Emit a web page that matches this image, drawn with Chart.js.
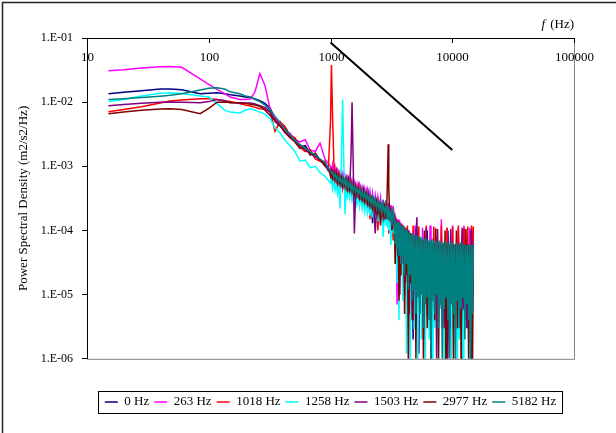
<!DOCTYPE html>
<html>
<head>
<meta charset="utf-8">
<script src="https://cdn.jsdelivr.net/npm/chart.js@4.4.1/dist/chart.umd.min.js"></script>
<style>
  html, body { margin: 0; padding: 0; background: #fff; }
  #wrap { width: 616px; height: 433px; }
</style>
</head>
<body>
<div id="wrap"><canvas id="psdChart" width="616" height="433"></canvas></div>
<script>
// Frequency grid (Hz) shared by every spectrum
const freqHz = [
  15, 20, 28, 40, 48, 60, 85, 100, 117, 135,
  150, 180, 200, 220, 240, 263, 290, 320, 350, 385,
  420, 465, 510, 560, 620, 680, 750, 820, 900, 960,
  1000, 1018, 1040, 1065, 1090, 1115, 1140, 1170, 1200, 1230,
  1258, 1285, 1315, 1345, 1375, 1405, 1440, 1475, 1503, 1535,
  1570, 1610, 1650, 1690, 1730, 1775, 1820, 1865, 1910, 1960,
  2010, 2060, 2110, 2160, 2215, 2270, 2330, 2390, 2450, 2510,
  2575, 2640, 2705, 2775, 2845, 2910, 2945, 2977, 3010, 3060,
  3130, 3200, 3270, 3340, 3400, 3460, 3520, 3585, 3650, 3715,
  3780, 3850, 3920, 3990, 4060, 4135, 4210, 4285, 4360, 4440,
  4520, 4600, 4685, 4770, 4855, 4940, 5030, 5120, 5215, 5310,
  5405, 5500, 5600, 5700, 5800, 5905, 6010, 6120, 6230, 6340,
  6455, 6570, 6690, 6810, 6930, 7055, 7180, 7310, 7440, 7575,
  7710, 7850, 7990, 8135, 8280, 8430, 8580, 8735, 8890, 9050,
  9215, 9380, 9550, 9720, 9895, 10075, 10255, 10440, 10630, 10820,
  11015, 11215, 11415, 11620, 11830, 12045, 12260, 12480, 12705, 12935,
  13165, 13405, 13645, 13890, 14140, 14395, 14655, 14900
];

// Power spectral density (m2/s2/Hz) for each forcing frequency
const psd0Hz = [
  1.35e-2, 1.43e-2, 1.5e-2, 1.6e-2, 1.6e-2, 1.56e-2, 1.35e-2, 1.38e-2, 1.4e-2, 1.35e-2,
  1.3e-2, 1.25e-2, 1.2e-2, 1.18e-2, 1.12e-2, 1.05e-2, 9.6e-3, 8e-3, 5.6e-3, 4.6e-3,
  4.2e-3, 3.0e-3, 2.7e-3, 2.0e-3, 2.1e-3, 1.6e-3, 1.5e-3, 1.2e-3, 1.1e-3, 8.5e-4,
  9e-4, 8e-4, 7.2e-4, 9e-4, 6.8e-4, 8.5e-4, 6e-4, 7.8e-4, 5.6e-4, 7.2e-4,
  5.5e-4, 7e-4, 5e-4, 6.4e-4, 4.6e-4, 6.2e-4, 4.4e-4, 5.6e-4, 4.2e-4, 5.4e-4,
  3.8e-4, 5e-4, 3.5e-4, 4.8e-4, 3.2e-4, 4.5e-4, 3e-4, 4.2e-4, 2.6e-4, 3.9e-4,
  2.5e-4, 3.7e-4, 2.2e-4, 3.4e-4, 1.3e-4, 3.3e-4, 2e-4, 3e-4, 1.6e-4, 2.9e-4,
  1.7e-4, 2.7e-4, 1.4e-4, 2.6e-4, 1.5e-4, 2.4e-4, 1.2e-4, 2.3e-4, 1.3e-4, 2.2e-4,
  8e-5, 2.1e-4, 1.2e-4, 8e-5, 1.4e-4, 5e-5, 1.3e-4, 2e-5, 1.2e-4, 6e-5,
  1.1e-4, 2.5e-5, 1.05e-4, 4e-5, 1.0e-4, 1e-5, 9.5e-5, 3e-5, 9e-5, 6e-6,
  8.5e-5, 2e-5, 8e-5, 2e-6, 7.5e-5, 1.5e-5, 1.1e-4, 3e-5, 7e-5, 1.2e-6,
  6.5e-5, 2.5e-5, 7e-5, 8e-6, 6e-5, 2e-5, 6.5e-5, 5e-6, 1e-4, 1.5e-5,
  6e-5, 3e-5, 5.5e-5, 1e-5, 6e-5, 4e-6, 6e-5, 2e-5, 5.5e-5, 1e-5,
  6e-5, 2.5e-5, 5.5e-5, 6e-6, 6e-5, 1.5e-5, 5.5e-5, 1e-6, 5.5e-5, 2e-5,
  1e-4, 1e-5, 5.5e-5, 3e-6, 6e-5, 2e-5, 5.5e-5, 8e-6, 6e-5, 2.5e-5,
  5.5e-5, 6e-6, 6e-5, 1.5e-5, 5.5e-5, 7e-7, 1.05e-4, 2e-5, 5.5e-5, 1e-5,
  6e-5, 3e-6, 5.5e-5, 2e-5, 1e-4, 8e-7, 5.5e-5, 1e-5
];
const psd263Hz = [
  3.1e-2, 3.2e-2, 3.4e-2, 3.55e-2, 3.6e-2, 3.5e-2, 2.3e-2, 1.9e-2, 1.58e-2, 1.36e-2,
  1.2e-2, 1.1e-2, 1.1e-2, 1.12e-2, 1.45e-2, 2.8e-2, 1.8e-2, 7.6e-3, 5.5e-3, 4.6e-3,
  3.5e-3, 3.3e-3, 2.6e-3, 2.4e-3, 2.6e-3, 1.8e-3, 1.7e-3, 2.3e-3, 1.3e-3, 1.1e-3,
  1.0e-3, 8e-4, 1.05e-3, 7.5e-4, 9.5e-4, 6.8e-4, 8.5e-4, 6.2e-4, 8e-4, 5.8e-4,
  7.5e-4, 5.4e-4, 7e-4, 5e-4, 6.5e-4, 4.8e-4, 6.2e-4, 4.4e-4, 5.8e-4, 4.2e-4,
  5.5e-4, 4e-4, 5.2e-4, 3.6e-4, 5e-4, 3.4e-4, 4.6e-4, 3.2e-4, 4.4e-4, 3e-4,
  4.2e-4, 2.8e-4, 4e-4, 2.6e-4, 3.8e-4, 2.4e-4, 3.5e-4, 2.2e-4, 3.3e-4, 2.1e-4,
  3.2e-4, 1.9e-4, 3e-4, 1.8e-4, 2.9e-4, 1.7e-4, 2.6e-4, 1.6e-4, 2.7e-4, 1.5e-4,
  2.5e-4, 1.4e-4, 2.4e-4, 1.7e-4, 6e-5, 1.6e-4, 7e-6, 1.5e-4, 3e-5, 1.4e-4,
  5e-5, 1.3e-4, 2e-5, 1.2e-4, 4e-5, 1.1e-4, 1.5e-5, 1.05e-4, 3e-5, 1.0e-4,
  1e-5, 9e-5, 3e-5, 8.5e-5, 8e-6, 1.2e-4, 2e-5, 8e-5, 4e-6, 7.5e-5,
  2.5e-5, 7e-5, 1e-5, 1.1e-4, 3e-5, 7e-5, 6e-6, 6.5e-5, 2e-5, 6.5e-5,
  1e-5, 1.2e-4, 3e-5, 6e-5, 5e-6, 6.5e-5, 2e-5, 1.1e-4, 1.2e-5, 6e-5,
  3e-5, 6e-5, 8e-6, 1.5e-4, 2e-5, 6e-5, 4e-6, 6.5e-5, 1.5e-5, 1.1e-4,
  2.5e-5, 6e-5, 6e-6, 6e-5, 2e-5, 1.2e-4, 1e-5, 6e-5, 3e-5, 6e-5,
  5e-6, 1.1e-4, 2e-5, 6e-5, 1e-5, 6e-5, 3e-5, 1.2e-4, 6e-6, 5.5e-5,
  2e-5, 6e-5, 1e-5, 1.1e-4, 2.5e-5, 6e-5, 5e-6, 1.0e-4
];
const psd1018Hz = [
  7.1e-3, 7.7e-3, 8.5e-3, 9.7e-3, 1.04e-2, 1.08e-2, 1.13e-2, 1.13e-2, 1.1e-2, 1.05e-2,
  1.02e-2, 9.5e-3, 9e-3, 8.7e-3, 8.3e-3, 7.9e-3, 7.8e-3, 7e-3, 3.5e-3, 5e-3,
  4.2e-3, 3e-3, 2.8e-3, 2.0e-3, 1.7e-3, 1.8e-3, 1.3e-3, 1.2e-3, 1.2e-3, 9e-4,
  5e-3, 3.8e-2, 6e-3, 1.2e-3, 7e-4, 8e-4, 5.2e-4, 7.5e-4, 5e-4, 6.8e-4,
  4.6e-4, 6.5e-4, 4.2e-4, 6e-4, 4e-4, 5.6e-4, 3.8e-4, 5.2e-4, 3.5e-4, 5e-4,
  3.3e-4, 4.7e-4, 3e-4, 4.5e-4, 2.8e-4, 4.2e-4, 2.6e-4, 4e-4, 2.4e-4, 3.7e-4,
  2.2e-4, 3.5e-4, 1.5e-4, 3.3e-4, 2e-4, 3.1e-4, 1.8e-4, 2.9e-4, 1e-4, 2.8e-4,
  1.6e-4, 2.6e-4, 1.5e-4, 2.5e-4, 1.4e-4, 2.4e-4, 1.3e-4, 2.2e-4, 9e-5, 2.1e-4,
  1.2e-4, 2e-4, 7e-5, 1.6e-4, 1.1e-4, 1.5e-4, 4e-5, 1.4e-4, 8e-5, 1.3e-4,
  2e-5, 1.25e-4, 5e-5, 1.15e-4, 1e-5, 1.1e-4, 3e-5, 1.2e-4, 6e-6, 9.5e-5,
  2.5e-5, 9e-5, 1e-5, 1.2e-4, 3e-5, 8.5e-5, 5e-6, 8e-5, 2e-5, 1.15e-4,
  1e-5, 7.5e-5, 3e-5, 7e-5, 6e-6, 7e-5, 2e-5, 1.2e-4, 1e-5, 6.5e-5,
  3e-5, 6.5e-5, 4e-6, 6.5e-5, 2e-5, 1.15e-4, 1e-5, 6e-5, 2.5e-5, 6.5e-5,
  6e-6, 6e-5, 2e-5, 1.2e-4, 1e-5, 6e-5, 3e-5, 6.5e-5, 3e-6, 1.1e-4,
  2e-5, 6e-5, 1e-5, 6e-5, 3e-5, 1.15e-4, 6e-6, 6e-5, 2e-5, 6e-5,
  1e-5, 1.2e-4, 3e-5, 6e-5, 4e-6, 6e-5, 2e-5, 1.1e-4, 1e-5, 6e-5,
  3e-5, 1.15e-4, 6e-6, 5.5e-5, 2e-5, 1.2e-4, 1e-5, 1.15e-4
];
const psd1258Hz = [
  1.02e-2, 1.1e-2, 1.25e-2, 1.38e-2, 1.4e-2, 1.36e-2, 1.25e-2, 1.2e-2, 9.5e-3, 7.5e-3,
  7e-3, 6.8e-3, 7.5e-3, 7.9e-3, 7.5e-3, 7e-3, 6.5e-3, 5.5e-3, 4e-3, 3.3e-3,
  2.6e-3, 2.1e-3, 1.7e-3, 1.2e-3, 1.25e-3, 9.5e-4, 1e-3, 8e-4, 7e-4, 6e-4,
  5.5e-4, 6.5e-4, 4.5e-4, 6e-4, 4.2e-4, 5.5e-4, 3.8e-4, 5e-4, 2.2e-4, 1.5e-3,
  1.1e-2, 1.2e-3, 1.8e-4, 4.5e-4, 3.4e-4, 4.5e-4, 3.2e-4, 4.2e-4, 3e-4, 4e-4,
  2.8e-4, 3.8e-4, 2.6e-4, 3.6e-4, 2.4e-4, 3.4e-4, 2.2e-4, 3.2e-4, 2e-4, 3e-4,
  1.9e-4, 2.8e-4, 1.7e-4, 2.7e-4, 1.6e-4, 2.5e-4, 1.5e-4, 2.4e-4, 1.4e-4, 2.3e-4,
  1.3e-4, 2.2e-4, 8e-5, 2.1e-4, 1.2e-4, 2e-4, 1.1e-4, 1.9e-4, 1e-4, 1.8e-4,
  6e-5, 1.7e-4, 9e-5, 1.3e-4, 3e-5, 1.25e-4, 1.5e-5, 1.2e-4, 4e-6, 1.1e-4,
  2.5e-5, 1.05e-4, 8e-6, 1e-4, 3e-5, 9.5e-5, 1.2e-6, 9e-5, 2e-5, 8.5e-5,
  6e-7, 8e-5, 1.5e-5, 7.5e-5, 3e-6, 7e-5, 2e-5, 7e-5, 8e-7, 6.5e-5,
  1e-5, 6.5e-5, 2e-6, 6e-5, 1.5e-5, 6e-5, 5e-7, 6e-5, 1e-5, 6e-5,
  2e-6, 5.5e-5, 1.5e-5, 6e-5, 6e-7, 5.5e-5, 3e-6, 5.5e-5, 1e-5, 5.5e-5,
  8e-7, 5.5e-5, 1.5e-5, 5.5e-5, 3e-6, 5.5e-5, 5e-7, 5e-5, 1e-5, 5.5e-5,
  2e-6, 5e-5, 1.5e-5, 5.5e-5, 6e-7, 5e-5, 3e-6, 5.5e-5, 1e-5, 5e-5,
  8e-7, 5.5e-5, 2e-6, 5e-5, 1.5e-5, 5.5e-5, 5e-7, 5e-5, 3e-6, 5.5e-5,
  1e-5, 5e-5, 6e-7, 5e-5, 2e-6, 5.5e-5, 8e-6, 5e-5
];
const psd1503Hz = [
  8.8e-3, 9.2e-3, 9.6e-3, 1e-2, 1.01e-2, 1e-2, 9.8e-3, 1.02e-2, 1.1e-2, 1.05e-2,
  9.8e-3, 9.7e-3, 9.7e-3, 9.7e-3, 9.4e-3, 8.8e-3, 8.2e-3, 7e-3, 5e-3, 4.2e-3,
  3.6e-3, 2.9e-3, 2.6e-3, 2.1e-3, 1.8e-3, 1.6e-3, 1.4e-3, 1.3e-3, 1.0e-3, 9e-4,
  8.5e-4, 7e-4, 8.2e-4, 6.5e-4, 7.8e-4, 6e-4, 7.2e-4, 5.6e-4, 6.8e-4, 5.2e-4,
  6.4e-4, 5e-4, 6e-4, 4.6e-4, 5.8e-4, 4.4e-4, 5e-4, 1.5e-3, 1e-2, 1.2e-3,
  9e-5, 3.8e-4, 4.2e-4, 3.4e-4, 4e-4, 3.2e-4, 3.8e-4, 3e-4, 3.6e-4, 2.8e-4,
  3.4e-4, 2.6e-4, 3.2e-4, 2.4e-4, 3e-4, 2.3e-4, 9e-5, 2.2e-4, 2.7e-4, 2e-4,
  2.6e-4, 1.8e-4, 2.5e-4, 1.7e-4, 2.4e-4, 1.6e-4, 2.3e-4, 1.5e-4, 2.2e-4, 1.4e-4,
  2.1e-4, 1.3e-4, 2e-4, 1.2e-4, 1.5e-4, 8e-5, 1.45e-4, 4e-5, 1.35e-4, 1e-5,
  1.25e-4, 3e-5, 1.2e-4, 6e-5, 1.1e-4, 1.5e-5, 1.05e-4, 4e-5, 1e-4, 5e-6,
  9e-5, 2.5e-5, 8.5e-5, 4e-6, 8.5e-5, 2e-5, 8e-5, 1.6e-4, 3e-5, 7.5e-5,
  1e-5, 7e-5, 2.5e-5, 7e-5, 2e-6, 6.5e-5, 2e-5, 1.1e-4, 9e-6, 6.5e-5,
  3e-5, 6.5e-5, 4e-6, 6e-5, 1.5e-5, 6.5e-5, 2.5e-5, 6e-5, 1e-6, 1.05e-4,
  2e-5, 6e-5, 8e-6, 6.5e-5, 2.5e-5, 6e-5, 3e-6, 6e-5, 1.5e-5, 6e-5,
  1e-6, 6e-5, 2e-5, 1.05e-4, 8e-6, 6e-5, 2.5e-5, 6e-5, 4e-6, 6e-5,
  2e-5, 6e-5, 1e-5, 6e-5, 2.5e-5, 1.1e-4, 6e-6, 6e-5, 1.5e-5, 6e-5,
  3e-6, 6e-5, 2e-5, 6e-5, 1e-5, 1.05e-4, 2.5e-5, 6e-5
];
const psd2977Hz = [
  6.6e-3, 7e-3, 7.5e-3, 7.8e-3, 7.9e-3, 7.7e-3, 6.6e-3, 8e-3, 1.0e-2, 1.01e-2,
  9.9e-3, 9.8e-3, 9.6e-3, 9.3e-3, 9e-3, 8.6e-3, 7.5e-3, 6.2e-3, 5.2e-3, 4.3e-3,
  3.4e-3, 2.8e-3, 2.4e-3, 1.9e-3, 2e-3, 1.5e-3, 1.6e-3, 1.25e-3, 1.05e-3, 9.5e-4,
  7e-4, 8.5e-4, 6.5e-4, 8e-4, 6e-4, 7.6e-4, 5.6e-4, 7e-4, 5.2e-4, 6.6e-4,
  5e-4, 6.2e-4, 4.8e-4, 5.8e-4, 4.4e-4, 5.6e-4, 4.2e-4, 5.2e-4, 4e-4, 4.8e-4,
  3.7e-4, 4.6e-4, 3.5e-4, 4.3e-4, 3.2e-4, 4e-4, 3e-4, 3.8e-4, 2.8e-4, 3.6e-4,
  2.6e-4, 3.3e-4, 2.4e-4, 3.1e-4, 2.2e-4, 2.9e-4, 2e-4, 2.8e-4, 1.8e-4, 2.6e-4,
  1.2e-4, 2.5e-4, 1.6e-4, 2.3e-4, 1.5e-4, 3e-4, 8e-4, 2.2e-3, 5e-4, 1.5e-4,
  2e-4, 1e-4, 1.9e-4, 1.4e-4, 3e-5, 1.3e-4, 6e-5, 1.25e-4, 8e-6, 1.2e-4,
  2e-5, 1.15e-4, 4e-5, 1.1e-4, 5e-6, 1.05e-4, 2e-5, 1e-4, 7e-7, 9.5e-5,
  1.5e-5, 9e-5, 4e-6, 8.5e-5, 2.5e-5, 8e-5, 1e-6, 8e-5, 1.5e-5, 7.5e-5,
  5e-6, 7e-5, 2e-5, 7e-5, 8e-7, 1e-4, 1.2e-5, 6.5e-5, 3e-6, 6.5e-5,
  1e-5, 6.5e-5, 6e-7, 6e-5, 2e-5, 6.5e-5, 4e-6, 1.05e-4, 1.5e-5, 6e-5,
  1e-6, 6e-5, 1e-5, 6e-5, 3e-6, 6e-5, 2e-5, 1e-4, 6e-7, 6e-5,
  1.2e-5, 6e-5, 4e-6, 6e-5, 1.5e-5, 6e-5, 8e-7, 6e-5, 1e-5, 1e-4,
  3e-6, 6e-5, 2e-5, 6e-5, 6e-7, 6e-5, 1e-5, 6e-5, 4e-6, 1.05e-4,
  1.5e-5, 6e-5, 1e-6, 6e-5, 1e-5, 6e-5, 5e-7, 6e-5
];
const psd5182Hz = [
  1.1e-2, 1.13e-2, 1.18e-2, 1.24e-2, 1.28e-2, 1.35e-2, 1.55e-2, 1.65e-2, 1.68e-2, 1.6e-2,
  1.45e-2, 1.35e-2, 1.25e-2, 1.2e-2, 1.1e-2, 1.02e-2, 9e-3, 7.5e-3, 6e-3, 4.8e-3,
  3.8e-3, 3.1e-3, 2.5e-3, 2.2e-3, 1.9e-3, 1.7e-3, 1.5e-3, 1.3e-3, 1.15e-3, 9.5e-4,
  8.5e-4, 7.8e-4, 8.2e-4, 6.8e-4, 7.6e-4, 6.2e-4, 7.2e-4, 5.8e-4, 6.8e-4, 5.5e-4,
  6.4e-4, 5.2e-4, 6.2e-4, 4.8e-4, 6e-4, 4.6e-4, 5.6e-4, 4.3e-4, 5.2e-4, 4.1e-4,
  4.9e-4, 3.9e-4, 4.6e-4, 3.6e-4, 4.4e-4, 3.4e-4, 4.2e-4, 3.2e-4, 3.9e-4, 3e-4,
  3.7e-4, 2.8e-4, 3.5e-4, 2.6e-4, 3.3e-4, 2.4e-4, 3.1e-4, 2.2e-4, 2.9e-4, 2.1e-4,
  2.8e-4, 1.9e-4, 2.6e-4, 1.8e-4, 2.5e-4, 1.6e-4, 2.4e-4, 1.5e-4, 2.3e-4, 1.4e-4,
  2.1e-4, 1.2e-4, 2e-4, 1.5e-4, 6e-5, 1.4e-4, 5e-5, 1.35e-4, 4e-5, 1.3e-4,
  3e-5, 1.2e-4, 4e-5, 1.15e-4, 2e-5, 1.1e-4, 3e-5, 1.0e-4, 1.2e-5, 9.5e-5,
  2e-5, 9e-5, 8e-6, 9e-5, 1.2e-5, 8.5e-5, 5e-6, 8.5e-5, 9e-6, 8e-5,
  5e-6, 8e-5, 1e-5, 7.5e-5, 3e-6, 7.5e-5, 7e-6, 7.5e-5, 9e-6, 7e-5,
  4e-6, 7e-5, 6e-7, 7.5e-5, 8e-6, 7e-5, 5e-6, 7e-5, 1e-5, 6.5e-5,
  3e-6, 7e-5, 7e-6, 6.5e-5, 8e-7, 6.5e-5, 6e-6, 7e-5, 9e-6, 6.5e-5,
  4e-6, 6.5e-5, 1e-6, 6.5e-5, 7e-6, 6.5e-5, 5e-6, 6e-5, 5e-7, 6.5e-5,
  8e-6, 6e-5, 3e-6, 6.5e-5, 6e-6, 6.5e-5, 9e-6, 6e-5, 2e-6, 6e-5,
  7e-6, 6e-5, 4e-6, 6e-5, 7e-7, 6e-5, 5e-6, 6e-5
];

const seriesLabels = ['0 Hz', '263 Hz', '1018 Hz', '1258 Hz', '1503 Hz', '2977 Hz', '5182 Hz'];
const seriesColors = ['#000080', '#FF00FF', '#FF0000', '#00FFFF', '#800080', '#800000', '#008080'];
const seriesValues = [psd0Hz, psd263Hz, psd1018Hz, psd1258Hz, psd1503Hz, psd2977Hz, psd5182Hz];

// -5/3 reference slope
const slopeX = [1000, 10000];
const slopeY = [0.085, 0.0018];

const xTicks = [10, 100, 1000, 10000, 100000];
const yTicks = [1e-6, 1e-5, 1e-4, 1e-3, 1e-2, 1e-1];

// Plot box
const AREA_LEFT = 87, AREA_TOP = 38, PAD_LEFT = 10;

function sciLabel(v) {
  const e = Math.round(Math.log10(v));
  return '1.E' + (e < 0 ? '-' : '+') + String(Math.abs(e)).padStart(2, '0');
}

// Frame, inner x labels, axis name and legend box
const chartDecor = {
  id: 'chartDecor',
  beforeDraw(chart) {
    const ctx = chart.ctx;
    ctx.save();
    ctx.fillStyle = '#fff';
    ctx.fillRect(0, 0, chart.width, chart.height);
    ctx.restore();
  },
  afterDatasetsDraw(chart) {
    const { ctx, chartArea: a, scales: { x } } = chart;
    ctx.save();
    ctx.strokeStyle = '#808080';
    ctx.lineWidth = 1;
    ctx.beginPath();
    ctx.moveTo(a.right + 0.5, a.top);
    ctx.lineTo(a.right + 0.5, a.bottom + 0.5);
    ctx.lineTo(a.left, a.bottom + 0.5);
    ctx.stroke();

    ctx.strokeStyle = '#000';
    ctx.fillStyle = '#000';
    ctx.font = '13px "Liberation Serif"';
    ctx.textAlign = 'center';
    ctx.textBaseline = 'middle';
    xTicks.forEach(v => {
      const px = Math.round(x.getPixelForValue(v)) + 0.5;
      ctx.beginPath();
      ctx.moveTo(px, a.top);
      ctx.lineTo(px, a.top + 5);
      ctx.stroke();
      ctx.fillText(String(v), px, a.top + 20);
    });

    ctx.textAlign = 'right';
    ctx.fillText('(Hz)', a.right, a.top - 13);
    const w = ctx.measureText('(Hz)').width;
    ctx.font = 'italic 13px "Liberation Serif"';
    ctx.fillText('f', a.right - w - 5, a.top - 13);
    ctx.restore();
  },
  afterDraw(chart) {
    const ctx = chart.ctx;
    ctx.save();
    ctx.strokeStyle = '#222';
    ctx.lineWidth = 1.5;
    ctx.beginPath();
    ctx.moveTo(2.5, chart.height);
    ctx.lineTo(2.5, 2.5);
    ctx.lineTo(chart.width, 2.5);
    ctx.stroke();

    const boxes = chart.legend.legendHitBoxes;
    if (boxes && boxes.length) {
      const l = Math.min(...boxes.map(b => b.left)) - 7;
      const r = Math.max(...boxes.map(b => b.left + b.width)) + 6;
      const t = boxes[0].top - 4.5;
      const h = boxes[0].height + 9;
      ctx.strokeStyle = '#000';
      ctx.lineWidth = 1;
      ctx.strokeRect(Math.round(l) + 0.5, Math.round(t) + 0.5, Math.round(r - l), Math.round(h));
    }
    ctx.restore();
  }
};

Chart.defaults.font.family = '"Liberation Serif", "Times New Roman", serif';
Chart.defaults.font.size = 13;
Chart.defaults.color = '#000';

const datasets = seriesValues.map((vals, i) => ({
  label: seriesLabels[i],
  data: freqHz.map((f, k) => ({ x: f, y: vals[k] })),
  borderColor: seriesColors[i],
  backgroundColor: seriesColors[i],
  borderWidth: 1.5,
  pointRadius: 0,
  tension: 0,
  order: seriesValues.length - i
}));
datasets.push({
  label: 'slope',
  data: slopeX.map((f, k) => ({ x: f, y: slopeY[k] })),
  borderColor: '#000',
  borderWidth: 2,
  pointRadius: 0,
  order: 0
});

new Chart(document.getElementById('psdChart'), {
  type: 'line',
  data: { datasets },
  options: {
    responsive: false,
    animation: false,
    events: [],
    layout: { padding: { left: PAD_LEFT, right: 42, top: 0, bottom: 14.6 } },
    scales: {
      x: {
        type: 'logarithmic',
        position: 'top',
        min: 10,
        max: 100000,
        afterFit: s => { s.height = AREA_TOP; },
        ticks: { display: false },
        grid: { display: false },
        border: { display: true, color: '#000', width: 1 }
      },
      y: {
        type: 'logarithmic',
        min: 1e-6,
        max: 1e-1,
        afterBuildTicks: s => { s.ticks = yTicks.map(v => ({ value: v })); },
        afterFit: s => { s.width = AREA_LEFT - PAD_LEFT; },
        ticks: { callback: v => sciLabel(v), padding: 9, autoSkip: false, font: { size: 12 } },
        grid: { display: true, drawOnChartArea: false, drawTicks: true, tickLength: 5, color: '#000' },
        border: { display: true, color: '#000', width: 1 },
        title: {
          display: true,
          text: 'Power Spectral Density (m2/s2/Hz)',
          font: { size: 13 },
          padding: { top: 6, bottom: 0 }
        }
      }
    },
    plugins: {
      tooltip: { enabled: false },
      legend: {
        position: 'bottom',
        fullSize: false,
        title: { display: true, text: '', padding: { top: 0, bottom: 16 } },
        labels: {
          usePointStyle: true,
          pointStyle: 'line',
          pointStyleWidth: 13,
          padding: 5,
          font: { size: 13 },
          color: '#000',
          filter: item => item.datasetIndex < seriesLabels.length,
          sort: (a, b) => a.datasetIndex - b.datasetIndex
        }
      }
    }
  },
  plugins: [chartDecor]
});
</script>
</body>
</html>
